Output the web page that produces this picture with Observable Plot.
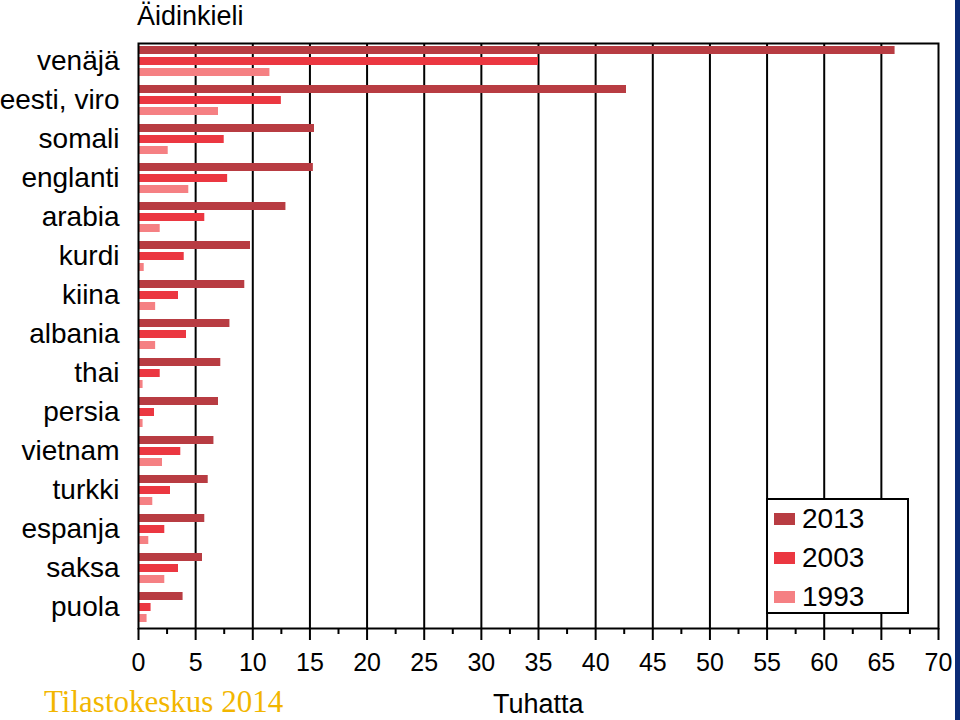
<!DOCTYPE html>
<html>
<head>
<meta charset="utf-8">
<script src="https://cdn.jsdelivr.net/npm/d3@7"></script>
<script src="https://cdn.jsdelivr.net/npm/@observablehq/plot@0.6"></script>
<style>
  html, body { margin: 0; padding: 0; background: #fff; }
  #wrap { position: relative; width: 960px; height: 720px; overflow: hidden; font-family: "Liberation Sans", Arial, sans-serif; }
  #chart { position: absolute; left: 0; top: 0; }
  .title { position: absolute; left: 137px; top: -2px; font-size: 27px; line-height: 36px; color: #000; }
  .xlabel { position: absolute; left: 493px; top: 691px; font-size: 27px; line-height: 27px; color: #000; }
  .caption { position: absolute; left: 44px; top: 686px; font-family: "Liberation Serif", "DejaVu Serif", serif; font-size: 31px; line-height: 31px; color: #f2b600; }
  .strip { position: absolute; left: 955px; top: 0; width: 5px; height: 720px; background: #0b2b76; }
  .legend { position: absolute; left: 766px; top: 498px; width: 139px; height: 112px; border: 2px solid #000; background: #fff; }
  .legend .item { position: absolute; left: 6px; height: 30px; display: flex; align-items: center; font-size: 28px; }
  .legend .sw { width: 21px; height: 12px; margin-right: 7px; }
</style>
</head>
<body>
<div id="wrap">
  <div id="chart"></div>
  <div class="title">Äidinkieli</div>
  <div class="xlabel">Tuhatta</div>
  <div class="caption">Tilastokeskus 2014</div>
  <div class="legend" id="legend"></div>
  <div class="strip"></div>
</div>
<script>
const languages = ["venäjä", "eesti, viro", "somali", "englanti", "arabia", "kurdi", "kiina", "albania", "thai", "persia", "vietnam", "turkki", "espanja", "saksa", "puola"];
const years = ["2013", "2003", "1993"];
const v2013 = [66.2, 42.7, 15.4, 15.3, 12.9, 9.8, 9.3, 8.0, 7.2, 7.0, 6.6, 6.1, 5.8, 5.6, 3.9];
const v2003 = [35.0, 12.5, 7.5, 7.8, 5.8, 4.0, 3.5, 4.2, 1.9, 1.4, 3.7, 2.8, 2.3, 3.5, 1.1];
const v1993 = [11.5, 7.0, 2.6, 4.4, 1.9, 0.5, 1.5, 1.5, 0.4, 0.4, 2.1, 1.25, 0.9, 2.3, 0.75];
const colors = ["#b83c42", "#eb3741", "#f58083"];
const majorTicks = d3.range(0, 75, 5);
const minorTicks = d3.range(2.5, 70, 5);
const gridTicks = d3.range(5, 70, 5);

const series = [v2013, v2003, v1993];
const data = [];
languages.forEach((lang, i) => {
  years.forEach((yr, j) => data.push({lang, year: yr, value: series[j][i]}));
});

const chart = Plot.plot({
  width: 960,
  height: 720,
  marginLeft: 138,
  marginRight: 22,
  marginTop: 40,
  marginBottom: 89,
  style: {fontFamily: "'Liberation Sans', Arial, sans-serif", color: "#000", background: "transparent"},
  x: {domain: [0, 70], axis: null},
  y: {domain: years, paddingInner: 0.26, paddingOuter: 0.26, align: 0.3, axis: null},
  fy: {domain: languages, padding: 0, axis: null},
  color: {domain: years, range: colors},
  marks: [
    Plot.ruleX(gridTicks, {stroke: "#000", strokeWidth: 2}),
    Plot.barX(data, {fy: "lang", y: "year", x: "value", fill: "year"}),
    Plot.frame({stroke: "#000", strokeWidth: 2, facet: "super"}),
    Plot.axisFy({anchor: "left", fontSize: 28, tickSize: 0, tickPadding: 19, dy: -2, label: null}),
    Plot.axisX({ticks: majorTicks, tickSize: 12, tickPadding: 13, fontSize: 25, strokeWidth: 2, label: null}),
    Plot.axisX({ticks: minorTicks, tickSize: 6, text: null, strokeWidth: 2, label: null})
  ]
});
document.getElementById("chart").appendChild(chart);

const legend = document.getElementById("legend");
years.forEach((yr, j) => {
  const item = document.createElement("div");
  item.className = "item";
  item.style.top = (4 + j * 39) + "px";
  const sw = document.createElement("span");
  sw.className = "sw";
  sw.style.background = colors[j];
  const t = document.createElement("span");
  t.textContent = yr;
  item.appendChild(sw);
  item.appendChild(t);
  legend.appendChild(item);
});
</script>
</body>
</html>
